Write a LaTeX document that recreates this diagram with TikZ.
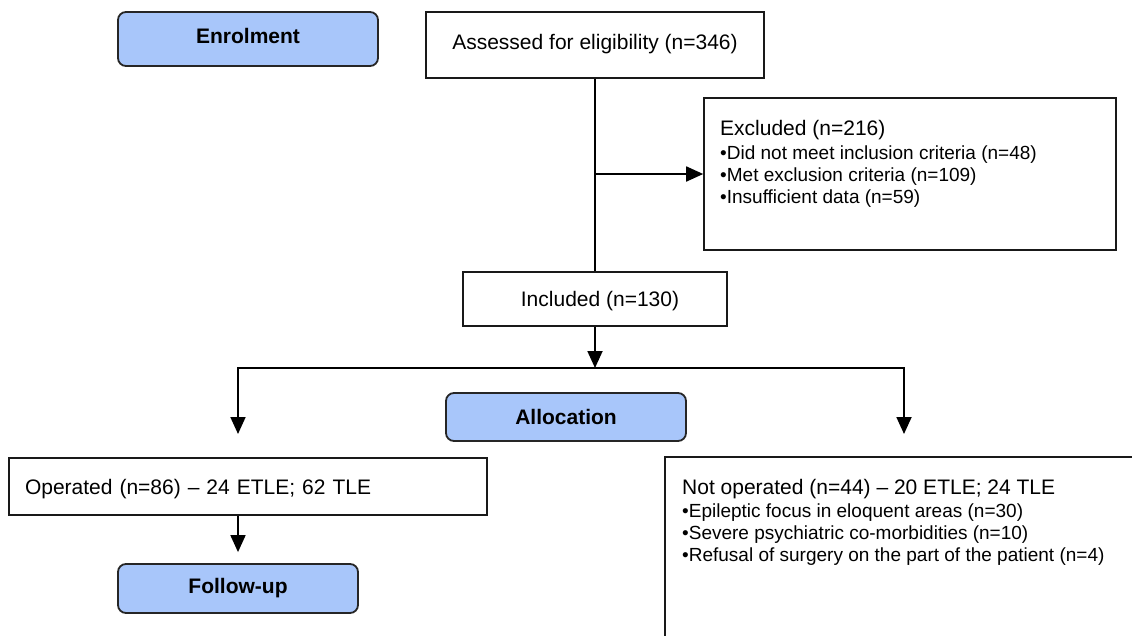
\documentclass[tikz,border=0pt]{standalone}
\usepackage{fontspec}
\setmainfont{Liberation Sans}
\usetikzlibrary{arrows.meta}
\definecolor{phase}{RGB}{168,198,250}
\begin{document}
\begin{tikzpicture}[x=1pt,y=-1pt,
  box/.style={draw=black!90, line width=1.6pt, fill=white, inner sep=0pt, font=\fontsize{21}{24}\selectfont},
  phasebox/.style={draw=black!85, line width=1.8pt, fill=phase, rounded corners=8pt, inner sep=0pt, font=\bfseries\fontsize{21}{24}\selectfont},
  listtext/.style={inner sep=0pt, align=left, anchor=north west, font=\fontsize{19}{22}\selectfont},
  conn/.style={line width=1.8pt, line join=miter},
  arr/.style={conn, -{Triangle[length=17pt,width=15pt]}},
]
\useasboundingbox (0,0) rectangle (1132,635);
\clip (0,0) rectangle (1132,635);

% phase labels
\node[phasebox, minimum width=260pt, minimum height=54pt] (enrol) at (248,39) {\raisebox{3pt}[\height][\depth]{Enrolment}};
\node[phasebox, minimum width=240pt, minimum height=48pt] (alloc) at (566,417) {Allocation};
\node[phasebox, minimum width=240pt, minimum height=49pt] (follow) at (238,588.5) {Follow-up};

% boxes
\node[box, minimum width=338pt, minimum height=66pt] (assess) at (595,45) {\raisebox{1pt}[\height][\depth]{Assessed for eligibility (n=346)}};
\node[box, minimum width=412pt, minimum height=152pt] (excl) at (910,174) {};
\node[listtext] (excltext) at (720,120) {{\fontsize{21}{22}\selectfont Excluded (n=216)}\\[2pt]
  •Did not meet inclusion criteria (n=48)\\
  •Met exclusion criteria (n=109)\\
  •Insufficient data (n=59)};
\node[box, minimum width=264pt, minimum height=54pt] (incl) at (595,299) {\hspace*{10pt}\raisebox{-2pt}[\height][\depth]{Included (n=130)}};
\node[box, minimum width=478pt, minimum height=57pt, text width=446pt, inner xsep=16pt, align=left] (oper) at (248,486.5) {\raisebox{-3pt}[\height][\depth]{Operated (n=86) -- 24 ETLE; 62 TLE}};
\node[box, minimum width=500pt, minimum height=243pt] (notop) at (915,578.5) {};
\node[listtext] (notoptext) at (682,479) {{\fontsize{21}{22}\selectfont Not operated (n=44) -- 20 ETLE; 24 TLE}\\[1pt]
  •Epileptic focus in eloquent areas (n=30)\\
  •Severe psychiatric co-morbidities (n=10)\\
  •Refusal of surgery on the part of the patient (n=4)};

% connectors
\draw[conn] (assess.south) -- (incl.north);
\draw[arr] (assess.south |- excl.west) -- (excl.west);
\coordinate (split) at (595,368);
\draw[arr] (incl.south) -- (split);
\coordinate (lt) at (238,368);
\coordinate (rt) at (904,368);
\coordinate (ltip) at (238,434);
\coordinate (rtip) at (904,434);
\draw[conn, {Triangle[length=17pt,width=15pt]}-{Triangle[length=17pt,width=15pt]}] (ltip) -- (lt) -- (rt) -- (rtip);
\draw[arr, shorten >=11pt] (follow.north |- oper.south) -- (follow.north);
\end{tikzpicture}
\end{document}
